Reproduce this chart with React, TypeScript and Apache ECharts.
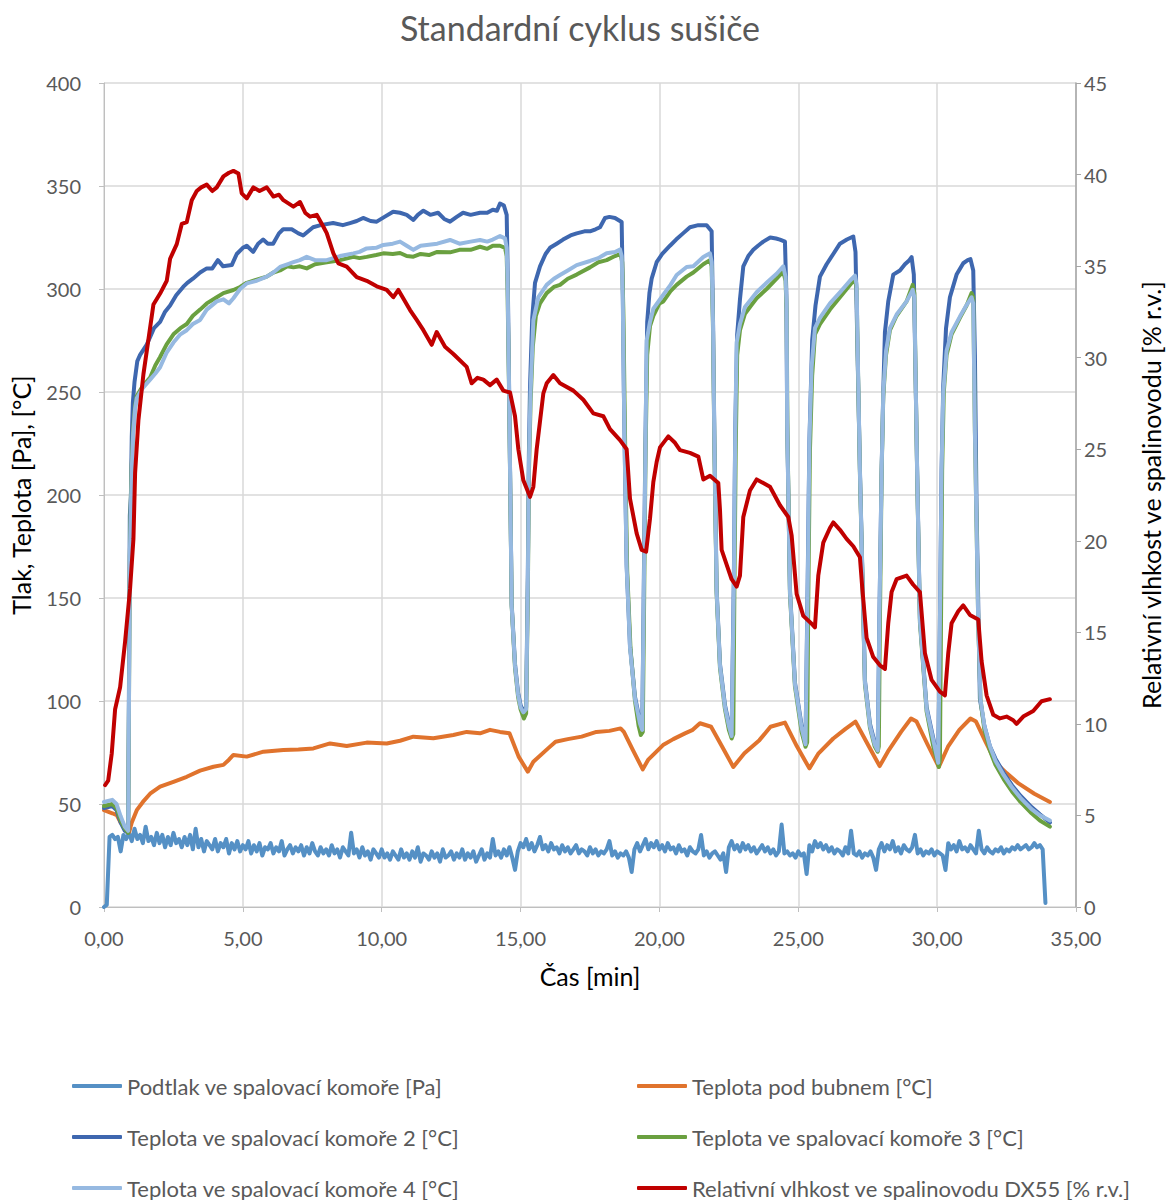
import React, { useEffect, useRef } from "react";
import * as echarts from "echarts";

const TITLE = "Standardní cyklus sušiče";
const NAMES = [
  "Podtlak ve spalovací komoře [Pa]",
  "Teplota pod bubnem [°C]",
  "Teplota ve spalovací komoře 2 [°C]",
  "Teplota ve spalovací komoře 3 [°C]",
  "Teplota ve spalovací komoře 4 [°C]",
  "Relativní vlhkost ve spalinovodu DX55 [% r.v.]",
];
const COLORS = ["#5590C5", "#E0732D", "#3E67AF", "#6AA040", "#96B9E1", "#C00000"];

// sampling step of the pressure record [min]
const PODTLAK_STEP = 0.1;
const podtlakValues = [
  0, 1, 34, 35, 33, 34, 27, 35, 33, 36,
  32, 38, 33, 35, 31, 39, 32, 34, 30, 36,
  31, 35, 29, 34, 30, 36, 31, 33, 29, 34,
  30, 35, 28, 38, 29, 33, 27, 32, 30, 28,
  33, 27, 31, 29, 33, 26, 31, 28, 32, 27,
  30, 28, 32, 26, 30, 27, 31, 25, 29, 28,
  31, 26, 29, 27, 32, 25, 28, 30, 26, 29,
  27, 30, 25, 29, 26, 31, 27, 25, 29, 26,
  28, 25, 30, 26, 28, 24, 29, 27, 25, 36,
  26, 28, 24, 29, 25, 27, 23, 28, 26, 24,
  28, 24, 26, 23, 27, 25, 23, 28, 24, 26,
  23, 27, 24, 29, 22, 26, 25, 23, 27, 24,
  26, 22, 28, 24, 25, 27, 23, 26, 24, 28,
  23, 26, 24, 27, 22, 25, 28, 23, 26, 24,
  33, 25, 27, 24, 28, 25, 29, 24, 18, 27,
  31, 29, 33, 28, 31, 27, 30, 34, 28, 30,
  27, 31, 28, 29, 26, 30, 27, 29, 26, 28,
  30, 26, 28, 27, 25, 29, 26, 28, 25, 27,
  26, 28, 32, 25, 27, 24, 26, 25, 27, 24,
  17, 28, 31, 27, 30, 33, 28, 31, 29, 32,
  28, 30, 27, 31, 28, 29, 26, 30, 27, 28,
  25, 29, 27, 26, 28, 35, 25, 27, 24, 26,
  27, 25, 23, 26, 17, 29, 32, 28, 30, 27,
  31, 28, 30, 27, 29, 26, 28, 30, 27, 29,
  26, 28, 25, 27, 40, 26, 27, 25, 26, 24,
  27, 25, 26, 16, 30, 27, 32, 29, 31, 28,
  30, 27, 29, 26, 28, 27, 25, 29, 26, 37,
  26, 25, 27, 24, 26, 25, 27, 24, 18, 28,
  31, 27, 30, 28, 32, 27, 29, 26, 30, 28,
  27, 29, 35, 26, 28, 25, 27, 26, 28, 25,
  27, 26, 25, 18, 31, 28, 30, 27, 32, 28,
  29, 27, 30, 28, 26, 37, 28, 26, 29, 27,
  26, 28, 27, 29, 26, 28, 27, 29, 28, 30,
  28, 29, 30, 28, 29, 31, 29, 30, 28, 2,
];

const teplotaBuben = [
  [0, 47], [0.3, 45.5], [0.46, 44.6], [0.6, 41], [0.75, 38.5], [0.91, 36.5], [1.0, 41], [1.18, 47], [1.4, 51], [1.66, 55],
  [2.02, 58.4], [2.5, 60.8], [2.98, 63.2], [3.46, 66.2], [3.94, 68.1], [4.3, 69], [4.5, 71.5], [4.66, 73.8], [5.14, 73],
  [5.74, 75.4], [6.46, 76.2], [7.0, 76.5], [7.54, 77], [8.14, 79.4], [8.74, 78.2], [9.46, 79.8], [10.18, 79.4], [10.66, 80.7],
  [11.14, 82.7], [11.86, 81.9], [12.58, 83.5], [13.06, 85], [13.54, 84.3], [13.9, 86], [14.26, 85], [14.6, 84.3], [14.93, 73],
  [15.26, 65.7], [15.46, 70.5], [15.99, 77], [16.26, 80.2], [16.7, 81.5], [17.2, 82.7], [17.73, 85], [18.2, 85.5], [18.6, 86.7],
  [18.72, 85], [19.05, 76], [19.4, 66.8], [19.59, 71.4], [20.13, 78.6], [20.5, 81.5], [20.92, 84.3], [21.2, 86], [21.46, 89.2],
  [21.86, 87.5], [22.25, 78], [22.66, 68], [23.06, 74.6], [23.6, 81], [24.0, 87.5], [24.52, 89.5], [24.95, 78], [25.4, 67.3],
  [25.73, 74.6], [26.26, 81.8], [26.7, 86.5], [27.06, 90], [27.5, 79], [27.93, 68.4], [28.26, 76.2], [28.7, 85], [29.06, 91.5],
  [29.26, 90], [29.65, 79], [30.06, 68], [30.39, 77.8], [30.8, 86], [31.2, 91.5], [31.4, 90], [31.75, 80], [32.13, 69.8],
  [32.5, 65], [32.93, 60], [33.5, 55], [34.06, 51],
];

const teplotaK2 = [
  [0, 48], [0.3, 49], [0.45, 47], [0.6, 41], [0.75, 37], [0.87, 36],
  [0.9, 110], [0.93, 190], [0.97, 200], [1.0, 228], [1.04, 245], [1.1, 255], [1.2, 265], [1.3, 268], [1.54, 273], [1.8, 281],
  [2.02, 284], [2.2, 289], [2.38, 292], [2.6, 297], [2.85, 301], [3.0, 303], [3.2, 305], [3.46, 308], [3.7, 310], [3.9, 310],
  [4.1, 314], [4.29, 311], [4.6, 311.6], [4.78, 317], [5.0, 320], [5.14, 321], [5.37, 318], [5.55, 322], [5.73, 324], [5.9, 322],
  [6.09, 322], [6.3, 327], [6.45, 329], [6.76, 329], [7.0, 327], [7.17, 326], [7.53, 330], [7.8, 331], [8.25, 332], [8.6, 331],
  [8.86, 332], [9.1, 333], [9.33, 334.5], [9.6, 333], [9.82, 332.7], [10.1, 335], [10.41, 337.5], [10.66, 337], [10.9, 336],
  [11.14, 333.5], [11.3, 336], [11.5, 338], [11.75, 336], [12.03, 337], [12.25, 334], [12.46, 332.7], [12.7, 335], [12.93, 337],
  [13.2, 336], [13.54, 337], [13.8, 337], [14.0, 338.5], [14.15, 338], [14.26, 341.5], [14.4, 340.5], [14.5, 336],
  [14.53, 313], [14.58, 260], [14.62, 214], [14.68, 147], [14.8, 118], [14.91, 104], [15.0, 98], [15.1, 95], [15.2, 97],
  [15.26, 160], [15.3, 220], [15.34, 252], [15.42, 286], [15.52, 303], [15.7, 311], [15.9, 317], [16.06, 320], [16.3, 322],
  [16.53, 324], [16.8, 326], [17.02, 327], [17.3, 328], [17.5, 328], [17.7, 329], [17.86, 330], [18.04, 334.5], [18.2, 335],
  [18.4, 334.5], [18.64, 332.5],
  [18.68, 300], [18.72, 250], [18.76, 214], [18.82, 166], [18.94, 127], [19.12, 102], [19.3, 90], [19.38, 85],
  [19.44, 160], [19.5, 230], [19.56, 284], [19.64, 298], [19.72, 305], [19.9, 313], [20.1, 317], [20.38, 321], [20.6, 324],
  [20.85, 327], [21.1, 330], [21.4, 331], [21.7, 331], [21.88, 328],
  [21.93, 285], [21.98, 226], [22.06, 154], [22.18, 118], [22.36, 98], [22.5, 89], [22.6, 84],
  [22.68, 160], [22.73, 232], [22.8, 278], [22.9, 295], [23.02, 311], [23.2, 316], [23.38, 319], [23.55, 321], [23.74, 323],
  [23.99, 325], [24.2, 324.5], [24.34, 324], [24.52, 323],
  [24.57, 298], [24.6, 235], [24.7, 154], [24.88, 109], [25.12, 88], [25.26, 79],
  [25.34, 160], [25.4, 226], [25.5, 275], [25.62, 292], [25.78, 306], [26.02, 312], [26.26, 317], [26.5, 322], [26.75, 324],
  [26.98, 325.5], [27.06, 318],
  [27.14, 265], [27.22, 212], [27.4, 110], [27.58, 89], [27.75, 80], [27.86, 76],
  [27.92, 140], [28.0, 212], [28.06, 250], [28.12, 279], [28.24, 294], [28.42, 307], [28.66, 309], [28.84, 312], [29.0, 314],
  [29.08, 315.5], [29.16, 307],
  [29.22, 260], [29.28, 212], [29.38, 140], [29.62, 97], [29.86, 82], [30.04, 70],
  [30.1, 138], [30.16, 212], [30.22, 253], [30.32, 281], [30.46, 296], [30.7, 307], [30.94, 312.5], [31.1, 314], [31.2, 314.5],
  [31.3, 309],
  [31.36, 268], [31.42, 193], [31.54, 101], [31.7, 88], [31.9, 78], [32.1, 72], [32.4, 65], [32.7, 59], [33.0, 54],
  [33.4, 48.5], [33.7, 45], [34.06, 41],
];

const teplotaK3 = [
  [0, 49], [0.3, 50], [0.45, 48], [0.6, 42], [0.75, 38], [0.87, 36],
  [0.9, 100], [0.93, 170], [0.97, 200], [1.0, 215], [1.05, 232], [1.12, 243], [1.18, 248], [1.4, 253], [1.66, 257], [1.85, 263],
  [2.02, 267], [2.25, 273], [2.5, 278], [2.75, 281], [2.98, 283], [3.2, 287], [3.46, 290], [3.7, 293], [4.06, 296], [4.3, 298],
  [4.66, 299.5], [4.9, 301], [5.14, 303], [5.5, 304.5], [5.86, 306], [6.1, 308], [6.34, 309], [6.6, 311], [6.82, 310.5],
  [7.05, 311], [7.3, 310], [7.6, 312], [8.02, 313], [8.5, 314], [8.98, 315.6], [9.2, 315], [9.46, 315.6], [9.8, 316.5],
  [10.06, 317.3], [10.4, 317], [10.66, 317.5], [10.9, 316], [11.14, 315.7], [11.4, 317], [11.7, 316.5], [12.0, 318],
  [12.46, 317.8], [12.8, 319], [13.2, 319], [13.54, 320.5], [13.8, 319.5], [14.0, 321], [14.26, 321], [14.44, 320], [14.5, 316],
  [14.53, 300], [14.58, 255], [14.62, 212], [14.68, 146], [14.8, 116], [14.91, 102], [15.0, 96], [15.12, 91.5], [15.2, 94],
  [15.26, 150], [15.3, 210], [15.36, 245], [15.44, 272], [15.55, 287], [15.7, 293], [15.94, 298], [16.2, 301], [16.42, 302],
  [16.7, 305], [17.02, 307], [17.5, 310.5], [17.8, 313], [18.1, 314], [18.4, 316], [18.6, 317], [18.66, 313],
  [18.7, 290], [18.74, 250], [18.78, 210], [18.84, 163], [18.96, 125], [19.12, 100], [19.25, 88], [19.33, 83.5], [19.4, 85],
  [19.45, 150], [19.5, 220], [19.56, 268], [19.66, 282], [19.78, 287], [20.0, 293], [20.14, 294], [20.4, 299], [20.62, 302],
  [20.98, 306], [21.22, 308], [21.58, 312], [21.82, 314], [21.88, 311],
  [21.93, 280], [21.98, 222], [22.06, 152], [22.18, 116], [22.36, 96], [22.5, 86], [22.6, 81.8], [22.66, 84],
  [22.7, 155], [22.75, 225], [22.8, 268], [22.9, 280], [23.08, 288], [23.3, 292], [23.5, 295.5], [23.86, 300], [24.22, 305],
  [24.46, 308.5], [24.54, 304],
  [24.58, 290], [24.61, 230], [24.7, 152], [24.88, 107], [25.12, 85], [25.26, 77.8], [25.32, 80],
  [25.36, 150], [25.42, 222], [25.5, 258], [25.6, 278], [25.78, 283], [26.14, 290], [26.5, 296], [26.86, 302], [27.04, 305],
  [27.1, 300],
  [27.15, 260], [27.22, 210], [27.4, 108], [27.58, 87], [27.75, 78], [27.86, 75.4], [27.9, 78],
  [27.94, 140], [28.0, 210], [28.06, 248], [28.16, 268], [28.3, 280], [28.54, 287], [28.9, 294], [29.12, 302], [29.18, 298],
  [29.22, 262], [29.28, 210], [29.38, 138], [29.62, 95], [29.86, 78], [30.06, 68], [30.1, 72],
  [30.14, 140], [30.18, 212], [30.24, 250], [30.34, 268], [30.52, 278], [30.82, 286], [31.06, 292], [31.24, 298], [31.3, 296],
  [31.36, 230], [31.48, 138], [31.56, 101], [31.7, 86], [31.9, 76], [32.1, 69], [32.4, 62], [32.7, 56], [33.0, 51],
  [33.4, 45.5], [33.7, 42], [34.06, 39],
];

const teplotaK4 = [
  [0, 51], [0.3, 52], [0.45, 50], [0.6, 44], [0.75, 39], [0.87, 37],
  [0.9, 100], [0.93, 170], [0.97, 195], [1.0, 212], [1.05, 230], [1.12, 242], [1.18, 247], [1.4, 252], [1.66, 256], [1.85, 259],
  [2.02, 262], [2.25, 269], [2.5, 274], [2.75, 278], [2.98, 280], [3.2, 283], [3.46, 285], [3.7, 290], [4.06, 294], [4.3, 295],
  [4.5, 293], [4.66, 295.5], [4.9, 300], [5.14, 302.7], [5.5, 304], [5.86, 306], [6.1, 308], [6.34, 310.7], [6.6, 312],
  [6.82, 313], [7.05, 314], [7.3, 315.6], [7.6, 314], [8.02, 314], [8.5, 316], [8.98, 317.3], [9.2, 318], [9.46, 319.7],
  [9.8, 320], [10.06, 321.4], [10.4, 322], [10.66, 323], [10.9, 321], [11.14, 319], [11.4, 321], [11.7, 321.5], [12.0, 322],
  [12.46, 323.8], [12.8, 322], [13.2, 323], [13.54, 323.8], [13.8, 323], [14.0, 324], [14.26, 325.7], [14.44, 324.6], [14.5, 320],
  [14.53, 305], [14.58, 258], [14.62, 213], [14.68, 146], [14.8, 117], [14.91, 103], [15.0, 97], [15.1, 94.5], [15.2, 96],
  [15.26, 155], [15.3, 215], [15.36, 250], [15.46, 284.7], [15.64, 296], [15.94, 302], [16.2, 305], [16.42, 306.8], [16.7, 309],
  [17.02, 311.6], [17.5, 313.6], [17.8, 315], [18.1, 317.4], [18.4, 318], [18.58, 319.2], [18.64, 316],
  [18.68, 295], [18.72, 250], [18.76, 213], [18.82, 165], [18.94, 126], [19.12, 101], [19.3, 89], [19.38, 86],
  [19.44, 155], [19.5, 225], [19.54, 275], [19.66, 284], [19.78, 290.4], [20.14, 297.2], [20.4, 302], [20.62, 306.8],
  [20.98, 310.7], [21.22, 311], [21.58, 315.5], [21.82, 317.3], [21.88, 313],
  [21.93, 283], [21.98, 224], [22.06, 153], [22.18, 117], [22.36, 97], [22.5, 88], [22.6, 83],
  [22.68, 155], [22.73, 230], [22.78, 274], [22.9, 283], [23.08, 291.3], [23.5, 298.4], [23.86, 303], [24.22, 307.4],
  [24.46, 311], [24.54, 306],
  [24.58, 292], [24.6, 234], [24.7, 153], [24.88, 108], [25.12, 87], [25.26, 79],
  [25.34, 155], [25.4, 225], [25.48, 262], [25.6, 281], [25.78, 286], [26.14, 293], [26.5, 298.4], [26.86, 304], [27.04, 306.5],
  [27.1, 302],
  [27.15, 262], [27.22, 211], [27.4, 109], [27.58, 88], [27.75, 79], [27.86, 76],
  [27.92, 140], [28.0, 211], [28.06, 249.5], [28.16, 270], [28.3, 281], [28.54, 287.6], [28.9, 294], [29.12, 299.6], [29.18, 296],
  [29.22, 261], [29.28, 211], [29.38, 139], [29.62, 96], [29.86, 81], [30.04, 70],
  [30.1, 138], [30.16, 212], [30.22, 249.5], [30.34, 270], [30.52, 279], [30.82, 286.6], [31.06, 292.2], [31.24, 296], [31.3, 293],
  [31.36, 231], [31.48, 138], [31.56, 101], [31.7, 88], [31.9, 78], [32.1, 71], [32.4, 64], [32.7, 58], [33.0, 53],
  [33.4, 47.5], [33.7, 44.5], [34.06, 42],
];

const vlhkost = [
  [0.04, 6.66], [0.15, 6.9], [0.28, 8.4], [0.4, 10.8], [0.58, 12.0], [0.76, 14.5], [0.94, 17.4], [1.06, 20.1], [1.12, 23.7],
  [1.24, 26.6], [1.42, 29.1], [1.6, 31.0], [1.78, 32.9], [2.02, 33.5], [2.26, 34.2], [2.38, 35.4], [2.62, 36.2], [2.8, 37.3],
  [2.98, 37.4], [3.16, 38.6], [3.34, 39.1], [3.5, 39.3], [3.7, 39.45], [3.9, 39.1], [4.06, 39.3], [4.3, 39.9], [4.5, 40.1],
  [4.66, 40.2], [4.84, 40.06], [4.96, 38.97], [5.14, 38.7], [5.38, 39.3], [5.6, 39.1], [5.86, 39.3], [6.1, 38.8], [6.3, 38.9],
  [6.46, 38.6], [6.82, 38.25], [7.06, 38.5], [7.25, 37.9], [7.42, 37.7], [7.66, 37.8], [7.9, 37.15], [8.02, 36.8], [8.26, 35.7],
  [8.44, 35.15], [8.74, 34.97], [9.1, 34.4], [9.46, 34.2], [9.82, 33.9], [10.18, 33.7], [10.42, 33.3], [10.6, 33.7],
  [11.02, 32.6], [11.26, 32.06], [11.5, 31.5], [11.8, 30.7], [11.98, 31.4], [12.28, 30.6], [12.58, 30.2], [13.06, 29.5],
  [13.24, 28.6], [13.45, 28.9], [13.66, 28.8], [13.9, 28.5], [14.14, 28.8], [14.38, 28.2], [14.62, 28.1], [14.8, 26.8],
  [14.92, 25.0], [15.1, 23.3], [15.34, 22.4], [15.46, 22.95], [15.58, 25.0], [15.82, 28.05], [15.94, 28.6], [16.18, 29.05],
  [16.42, 28.6], [16.9, 28.2], [17.26, 27.7], [17.62, 26.96], [17.98, 26.8], [18.22, 26.1], [18.58, 25.5], [18.82, 25.0],
  [18.94, 22.3], [19.18, 20.4], [19.36, 19.5], [19.52, 19.4], [19.66, 21.2], [19.78, 23.2], [19.9, 24.3], [20.02, 25.1],
  [20.32, 25.7], [20.56, 25.35], [20.74, 24.95], [21.1, 24.8], [21.4, 24.6], [21.58, 23.35], [21.82, 23.55], [22.12, 23.15],
  [22.18, 21.7], [22.24, 19.5], [22.42, 18.7], [22.6, 17.9], [22.78, 17.5], [22.9, 18.1], [23.02, 21.3], [23.26, 22.75],
  [23.5, 23.35], [23.74, 23.15], [23.98, 22.95], [24.34, 21.94], [24.64, 21.3], [24.76, 20.3], [24.94, 17.1], [25.18, 15.9],
  [25.48, 15.47], [25.6, 15.27], [25.72, 18.1], [25.9, 19.9], [26.14, 20.7], [26.26, 21.0], [26.5, 20.6], [26.74, 20.1],
  [26.98, 19.7], [27.22, 19.1], [27.3, 17.5], [27.46, 14.7], [27.7, 13.65], [27.94, 13.2], [28.12, 13.0], [28.24, 15.5],
  [28.36, 17.2], [28.54, 17.9], [28.9, 18.1], [29.14, 17.6], [29.38, 17.2], [29.56, 13.86], [29.8, 12.4], [30.1, 11.76],
  [30.28, 11.56], [30.4, 13.86], [30.52, 15.5], [30.76, 16.15], [30.94, 16.47], [31.18, 15.95], [31.48, 15.7], [31.6, 13.43],
  [31.78, 11.56], [32.02, 10.5], [32.26, 10.3], [32.5, 10.4], [32.74, 10.2], [32.86, 10.0], [33.1, 10.4], [33.46, 10.7],
  [33.76, 11.24], [34.06, 11.35],
];

// legend order in the two columns: [series index, column, row]
const LEGEND_SLOTS = [
  [0, 0, 0], [1, 1, 0],
  [2, 0, 1], [3, 1, 1],
  [4, 0, 2], [5, 1, 2],
];

const FONT = "Lato, 'Liberation Sans', sans-serif";
const GRAY = "#595959";

export default function App() {
  const ref = useRef<HTMLDivElement>(null);
  useEffect(() => {
    if (!ref.current) return;
    const chart = echarts.init(ref.current, null, { renderer: "svg" });
    const podtlak = podtlakValues.map((v, i) => [Number((i * PODTLAK_STEP).toFixed(2)), v]);
    const seriesData = [podtlak, teplotaBuben, teplotaK2, teplotaK3, teplotaK4, vlhkost];
    const legendText = { fontSize: 22, color: GRAY, fontFamily: FONT, lineHeight: 22 };
    const colLeft = [72, 637];
    const rowCenter = [1086, 1137, 1188];
    chart.setOption({
      animation: false,
      textStyle: { fontFamily: FONT },
      title: {
        text: TITLE,
        left: 575,
        textAlign: "center",
        top: 5,
        textStyle: { fontSize: 34, fontWeight: "normal", color: GRAY, fontFamily: FONT },
      },
      grid: { left: 104, right: 96, top: 83, bottom: 293, containLabel: false },
      legend: LEGEND_SLOTS.map(([si, col, row]) => ({
        left: colLeft[col],
        top: rowCenter[row] - 11,
        padding: 0,
        orient: "horizontal",
        itemWidth: 50,
        itemHeight: 4,
        icon: "roundRect",
        textStyle: legendText,
        data: [NAMES[si]],
      })),
      xAxis: {
        type: "value", min: 0, max: 35, interval: 5,
        name: "Čas [min]", nameLocation: "middle", nameGap: 56,
        nameTextStyle: { fontSize: 25, color: "#000", fontFamily: FONT },
        axisLine: { show: true, lineStyle: { color: "#BFBFBF", width: 1 } },
        axisTick: { show: true, length: 5, lineStyle: { color: "#BFBFBF" } },
        axisLabel: {
          fontSize: 20, color: GRAY, margin: 21, fontFamily: FONT,
          formatter: (v: number) => v.toFixed(2).replace(".", ","),
        },
        splitLine: { show: true, lineStyle: { color: "#D9D9D9", width: 1.5 } },
      },
      yAxis: [
        {
          type: "value", min: 0, max: 400, interval: 50,
          name: "Tlak, Teplota [Pa], [°C]", nameLocation: "middle", nameGap: 71, nameRotate: 90,
          nameTextStyle: { fontSize: 25, color: "#000", fontFamily: FONT },
          axisLine: { show: true, lineStyle: { color: "#BFBFBF", width: 1 } },
          axisTick: { show: true, length: 5, lineStyle: { color: "#BFBFBF" } },
          axisLabel: { fontSize: 20, color: GRAY, margin: 23, fontFamily: FONT },
          splitLine: { show: true, lineStyle: { color: "#D9D9D9", width: 1.5 } },
        },
        {
          type: "value", min: 0, max: 45, interval: 5, position: "right",
          name: "Relativní vlhkost ve spalinovodu [% r.v.]", nameLocation: "middle", nameGap: 62, nameRotate: 90,
          nameTextStyle: { fontSize: 25, color: "#000", fontFamily: FONT },
          axisLine: { show: true, lineStyle: { color: "#A6A6A6", width: 1.5 } },
          axisTick: { show: true, length: 5, lineStyle: { color: "#A6A6A6" } },
          axisLabel: { fontSize: 20, color: GRAY, margin: 8, fontFamily: FONT },
          splitLine: { show: false },
        },
      ],
      series: seriesData.map((d, i) => ({
        name: NAMES[i],
        type: "line",
        yAxisIndex: i === 5 ? 1 : 0,
        data: d,
        showSymbol: false,
        symbol: "none",
        lineStyle: { width: 4, color: COLORS[i], cap: "round", join: "round" },
        itemStyle: { color: COLORS[i] },
        z: 2 + i,
      })),
    });
    return () => chart.dispose();
  }, []);
  return (
    <div
      ref={ref}
      style={{ position: "fixed", left: 0, top: 0, width: 1172, height: 1200, background: "#fff" }}
    />
  );
}
